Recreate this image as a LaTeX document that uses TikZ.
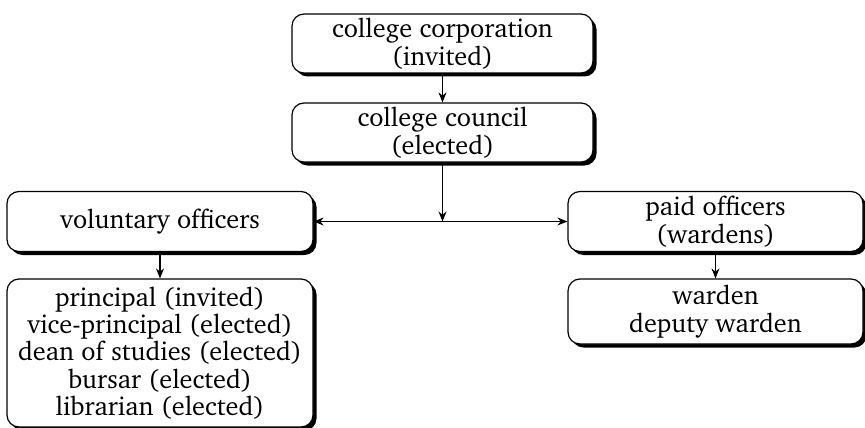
\documentclass[tikz,border=0pt]{standalone}
\usepackage[T1]{fontenc}
\usepackage{charter}
\usetikzlibrary{arrows.meta,shadows}

\begin{document}
\begin{tikzpicture}[x=1pt, y=-1pt, >={Stealth[length=10pt,width=8pt]},
    box/.style={draw, line width=1.2pt, rounded corners=12pt, fill=white, align=center,
        inner sep=1pt, font=\fontsize{26.3}{27.3}\selectfont,
        drop shadow={opacity=1, fill=black, shadow xshift=3.5pt, shadow yshift=-3.5pt}},
    link/.style={line width=1.1pt}]

    \useasboundingbox (0,0) rectangle (865,428);

    \node[box, minimum width=301pt, minimum height=59pt] (corp) at (442.5,43.5) {college corporation\\(invited)};
    \node[box, minimum width=301pt, minimum height=59pt] (council) at (442.5,132.5) {college council\\(elected)};
    \node[box, minimum width=306pt, minimum height=60pt] (vol) at (160,221.5) {voluntary officers};
    \node[box, minimum width=306pt, minimum height=148pt] (list) at (160,353) {principal (invited)\\vice-principal (elected)\\dean of studies (elected)\\bursar (elected)\\librarian (elected)};
    \node[box, minimum width=295pt, minimum height=60pt] (paid) at (715.5,221.5) {paid officers\\(wardens)};
    \node[box, minimum width=295pt, minimum height=65pt] (warden) at (715.5,311.5) {warden\\deputy warden};

    \coordinate (hub) at (442.5,221.5);

    \draw[link, ->] (corp) -- (council);
    \draw[link, ->] (council) -- (hub);
    \draw[link, <->] (vol) -- (paid);
    \draw[link, ->] (vol) -- (list);
    \draw[link, ->] (paid) -- (warden);
\end{tikzpicture}
\end{document}
